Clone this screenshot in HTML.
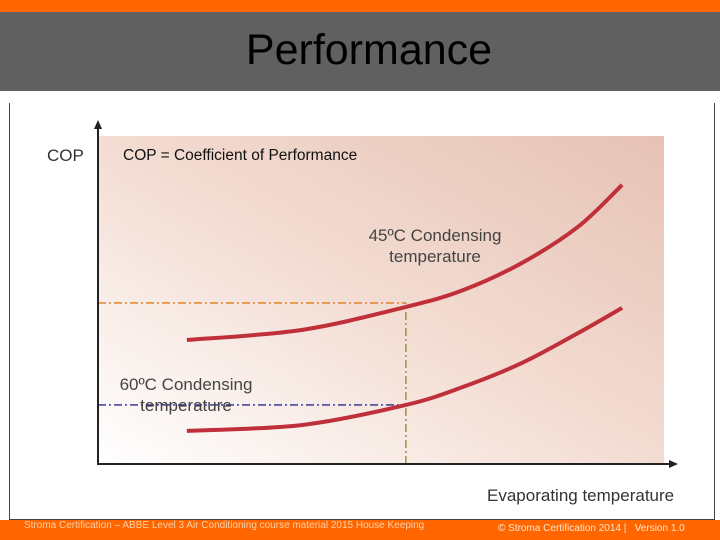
<!DOCTYPE html>
<html><head><meta charset="utf-8"><style>
body{margin:0;width:720px;height:540px;overflow:hidden;background:#fff;font-family:"Liberation Sans",sans-serif;position:relative}
.abs{position:absolute}
</style></head><body>
<div class="abs" style="left:0;top:0;width:720px;height:12px;background:#ff6600"></div>
<div class="abs" style="left:0;top:12px;width:720px;height:79px;background:#606060"></div>
<div class="abs" style="left:0;top:26px;width:738px;text-align:center;font-size:43px;color:#000">Performance</div>
<div class="abs" style="left:9px;top:103px;width:704px;height:416px;border:1px solid #444;border-top:none"></div>
<div class="abs" style="left:0;top:520px;width:720px;height:20px;background:#ff6600"></div>
<div class="abs" style="left:24px;top:520px;font-size:10px;color:#ffd0a8;white-space:nowrap">Stroma Certification – ABBE Level 3 Air Conditioning course material 2015 House Keeping</div>
<div class="abs" style="left:498px;top:523px;font-size:10px;color:#ffe6d0;white-space:nowrap">© Stroma Certification 2014 |&nbsp;&nbsp; Version 1.0</div>
<svg class="abs" style="left:0;top:0" width="720" height="540">
<defs><linearGradient id="g" x1="0" y1="1" x2="1" y2="0"><stop offset="0" stop-color="#ffffff"/><stop offset="0.5" stop-color="#f3dcd2"/><stop offset="1" stop-color="#e6c2b4"/></linearGradient></defs>
<rect x="98" y="136" width="566" height="328" fill="url(#g)"/>
<g id="marks"></g>
<line x1="98" y1="465" x2="98" y2="126" stroke="#222" stroke-width="2"/>
<polygon points="98,120 94,129 102,129" fill="#222"/>
<line x1="97" y1="464" x2="672" y2="464" stroke="#222" stroke-width="2"/>
<polygon points="678,464 669,460 669,468" fill="#222"/>
<text x="47" y="161" font-size="17" fill="#333">COP</text>
<text x="487" y="501" font-size="17" fill="#333">Evaporating temperature</text>
<text x="123" y="160" font-size="15.5" fill="#111">COP = Coefficient of Performance</text>
<text x="435" y="241" font-size="17" fill="#444" text-anchor="middle">45ºC Condensing<tspan x="435" dy="21">temperature</tspan></text>
<text x="186" y="390" font-size="17" fill="#444" text-anchor="middle">60ºC Condensing<tspan x="186" dy="21">temperature</tspan></text>
</svg>
<script>
const xs=[15.7,36.1,54.4,64.5,74.9,84.8,92.6];
const cop45=[37.8,40.9,47.9,53.0,61.3,72.3,85.1];
const cop60=[10.1,11.9,18.0,23.5,30.8,39.9,47.6];
const refX=54.4, ref45=49.1, ref60=18.0;
const X=v=>98+v*5.66, Y=v=>464-v*3.28;
const NS='http://www.w3.org/2000/svg', g=document.getElementById('marks');
function mk(t,a){const e=document.createElementNS(NS,t);for(const k in a)e.setAttribute(k,a[k]);g.appendChild(e);return e;}
function path(ys){const p=xs.map((x,i)=>[X(x),Y(ys[i])]);let d='M'+p[0];for(let i=0;i<p.length-1;i++){const p0=p[i-1]||p[i],p1=p[i],p2=p[i+1],p3=p[i+2]||p2;d+=' C'+(p1[0]+(p2[0]-p0[0])/6)+','+(p1[1]+(p2[1]-p0[1])/6)+' '+(p2[0]-(p3[0]-p1[0])/6)+','+(p2[1]-(p3[1]-p1[1])/6)+' '+p2;}return d;}
let e;
e=mk('line',{x1:X(0),y1:Y(ref45),x2:X(refX),y2:Y(ref45),stroke:'#e07a20','stroke-width':1.3,'stroke-dasharray':'8,3,2,3'});


e=mk('line',{x1:X(0),y1:Y(ref60),x2:X(refX),y2:Y(ref60),stroke:'#2a2a90','stroke-width':1.3,'stroke-dasharray':'8,3,2,3'});


e=mk('line',{x1:X(refX),y1:Y(0),x2:X(refX),y2:Y(ref45),stroke:'#8a8a20','stroke-width':1.3,'stroke-dasharray':'8,3,2,3'});


e=mk('path',{d:path(cop45),fill:'none',stroke:'#c0303a','stroke-width':4});


e=mk('path',{d:path(cop60),fill:'none',stroke:'#c0303a','stroke-width':4});


</script>
</body></html>
